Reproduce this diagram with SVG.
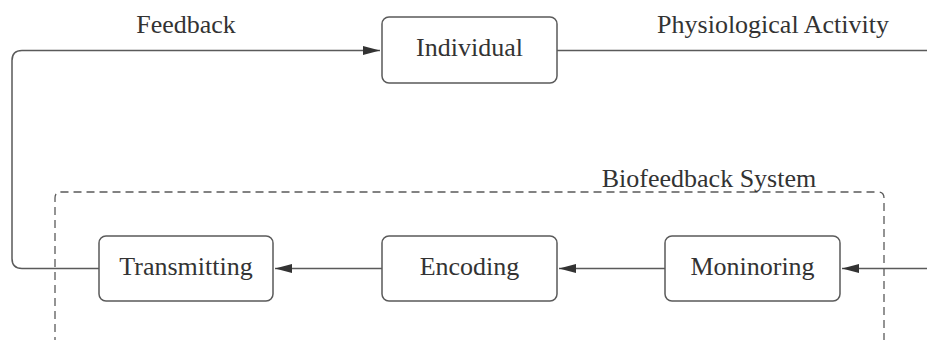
<svg xmlns="http://www.w3.org/2000/svg" width="927" height="340" viewBox="0 0 927 340">
<style>
.node rect{fill:#fff;stroke:#5a5a5a;stroke-width:1.5}
text{font-family:"Liberation Serif","Times New Roman",serif;font-size:26px;fill:#333;text-anchor:middle}
.conn path{fill:none;stroke:#5a5a5a;stroke-width:1.5}
.group{fill:none;stroke:#5a5a5a;stroke-width:1.3;stroke-dasharray:8 5}
</style>
<defs>
<marker id="arr" markerWidth="18" markerHeight="10" refX="17" refY="5" orient="auto" markerUnits="userSpaceOnUse">
<path d="M0,0.5 L17,5 L0,9.5 Z" fill="#333"/>
</marker>
</defs>
<rect width="927" height="340" fill="#fff"/>
<g id="biofeedback-system">
<path class="group" d="M55,345 L55,198 Q55,192 61,192 L878,192 Q884,192 884,198 L884,345"/>
<text x="709" y="187">Biofeedback System</text>
</g>
<g class="conn" id="connectors">
<path d="M99,268.5 L22,268.5 Q12,268.5 12,258.5 L12,60.5 Q12,50.5 22,50.5 L380,50.5" marker-end="url(#arr)"/>
<path d="M557,50.5 L927,50.5"/>
<path d="M927,268.5 L842,268.5" marker-end="url(#arr)"/>
<path d="M665,268.5 L559,268.5" marker-end="url(#arr)"/>
<path d="M382,268.5 L275,268.5" marker-end="url(#arr)"/>
<text x="186" y="33">Feedback</text>
<text x="773" y="33">Physiological Activity</text>
</g>
<g class="node" id="individual">
<rect x="382" y="17" width="175" height="66" rx="7"/>
<text x="469.5" y="56">Individual</text>
</g>
<g class="node" id="transmitting">
<rect x="99" y="236" width="174" height="65" rx="7"/>
<text x="186" y="275">Transmitting</text>
</g>
<g class="node" id="encoding">
<rect x="382" y="236" width="175" height="65" rx="7"/>
<text x="469.5" y="275">Encoding</text>
</g>
<g class="node" id="moninoring">
<rect x="665" y="236" width="175" height="65" rx="7"/>
<text x="752.5" y="275">Moninoring</text>
</g>
</svg>
